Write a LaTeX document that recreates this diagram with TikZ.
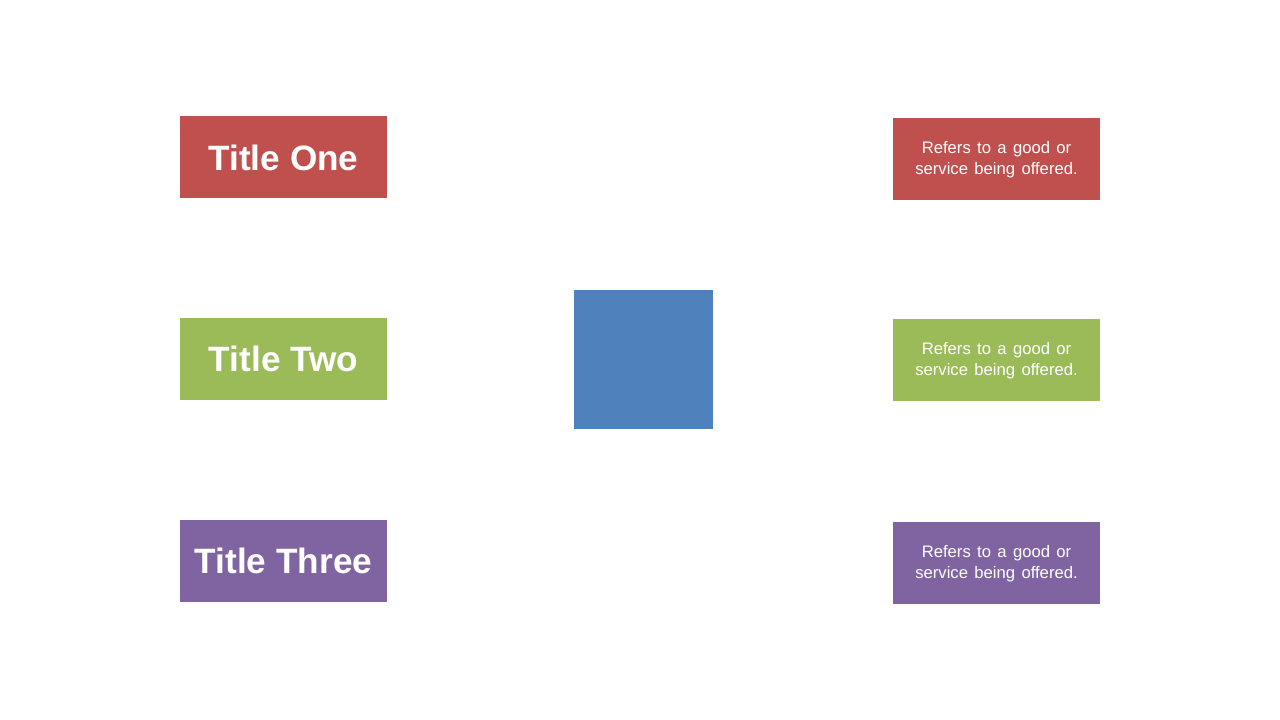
\documentclass[tikz,border=0pt]{standalone}
\usepackage{fontspec}
\setmainfont{Liberation Sans}
\definecolor{cred}{HTML}{C0504D}
\definecolor{cgreen}{HTML}{9BBB59}
\definecolor{cpurple}{HTML}{8064A2}
\definecolor{cblue}{HTML}{4F81BD}
\newcommand{\mydescfont}{\fontsize{12.5}{15.75}\selectfont\spaceskip=0.38em plus 0.1em\relax}
\begin{document}
\begin{tikzpicture}[x=0.75pt,y=-0.75pt,
  titlebox/.style={fill=#1,draw=none,minimum width=155.25pt,minimum height=61.5pt,inner sep=0pt,text=white,font=\fontsize{26.4}{30}\selectfont\bfseries},
  descbox/.style={fill=#1,draw=none,minimum width=155.25pt,minimum height=61.5pt,inner sep=0pt,text=white,align=center,font=\mydescfont}]
\useasboundingbox[fill=white] (0,0) rectangle (1280,720);
\node[titlebox=cred] (t1) at (283.5,157.5) {Title One};
\node[titlebox=cgreen] (t2) at (283.5,359) {Title Two};
\node[titlebox=cpurple] (t3) at (283.5,561) {Title Three};
\node[fill=cblue,draw=none,minimum width=104.25pt,minimum height=104.25pt,inner sep=0pt] (c) at (643.5,359.5) {};
\node[descbox=cred] (d1) at (996.5,159) {};
\node[text=white,align=center,font=\mydescfont,inner sep=0pt] (d1t) at (996.5,160) {Refers to a good or\\service being offered.};
\node[descbox=cgreen] (d2) at (996.5,360) {};
\node[text=white,align=center,font=\mydescfont,inner sep=0pt] (d2t) at (996.5,361) {Refers to a good or\\service being offered.};
\node[descbox=cpurple] (d3) at (996.5,562.5) {};
\node[text=white,align=center,font=\mydescfont,inner sep=0pt] (d3t) at (996.5,563.5) {Refers to a good or\\service being offered.};
\end{tikzpicture}
\end{document}
